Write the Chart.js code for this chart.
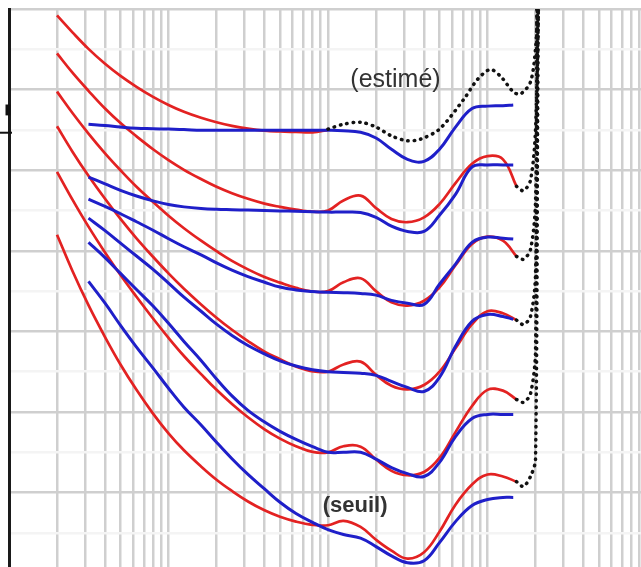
<!DOCTYPE html>
<html><head><meta charset="utf-8">
<script src="https://cdn.jsdelivr.net/npm/chart.js@4.4.0/dist/chart.umd.min.js"></script>
<style>html,body{margin:0;padding:0;overflow:hidden;background:#fff;width:641px;height:567px}canvas{display:block}</style>
</head><body><canvas id="c" width="660" height="580"></canvas>
<script>
// grid positions (Hz and dB)
const xGrid=[10,20,30,40,50,60,70,80,90,100,200,300,400,500,600,700,800,900,1000,2000,3000,4000,5000,6000,7000,8000,9000,10000,20000,30000,40000,50000,60000,70000,80000,90000,100000];
const yGrid=[-10,0,10,20,30,40,50,60,70,80,90,100,110,120,130];

// red contours (ISO 226:2003), Hz
const redFreq=[20,25,31.5,40,50,63,80,100,125,160,200,250,315,400,500,630,800,1000,1250,1600,2000,2500,3150,4000,5000,6300,8000,10000,12500,15200];
const red0 =[74.0,65.0,56.5,48.6,41.8,35.5,29.6,24.7,20.5,16.5,13.2,10.4,7.8,5.6,4.0,2.8,2.0,1.9,3.0,1.5,-1.7,-4.4,-6.4,-4.8,0.3,7.0,12.0,14.5,14.0,12.7];
const red20=[89.6,82.7,76.0,69.6,64.0,58.6,53.2,48.4,43.9,39.4,35.5,32.0,28.7,25.7,23.4,21.5,20.1,20.0,21.5,21.4,18.2,15.4,14.3,15.1,18.6,25.0,31.5,35.5,35.3,33.1];
const red40=[100.9,94.6,88.6,82.9,77.9,73.1,68.5,64.4,60.6,56.7,53.4,50.4,47.6,45.0,43.1,41.3,40.1,40.0,41.8,42.5,39.2,36.5,35.6,36.7,40.0,45.8,51.8,55.0,54.5,52.8];
const red60=[109.5,104.2,99.1,94.2,90.0,85.9,82.1,78.7,75.6,72.5,69.9,67.5,65.4,63.5,62.1,60.8,59.9,60.0,62.2,63.2,60.0,57.2,56.4,57.6,60.9,66.4,71.7,73.5,72.5,68.6];
const red80=[119.0,114.2,109.7,105.3,101.7,98.4,95.2,92.5,90.1,87.8,85.9,84.3,82.9,81.7,80.9,80.2,79.7,80.0,82.5,83.7,80.6,77.9,77.1,78.3,81.6,86.8,91.6,93.5,92.7,86.0];
const red100Freq=[20,25,31.5,40,50,63,80,100,125,160,200,250,315,400,500,630,800,1000];
const red100=[128.4,124.2,120.1,116.4,113.4,110.7,108.2,106.2,104.5,103.0,101.9,101.0,100.3,99.8,99.6,99.5,99.4,100.0];

// blue contours (original standard)
const blueFreq=[31.5,40,50,63,80,100,125,160,200,250,315,400,500,630,800,1000,1250,1600,2000,2500,3150,4000,5000,6300,8000,10000,12500,14500];
const blue0  =[62.4,57.0,51.5,46.1,40.9,35.9,31.2,26.8,22.5,18.4,14.5,10.9,7.6,4.8,2.6,0.8,-0.4,-1.3,-3.4,-5.7,-7.4,-6.9,-2.4,2.8,6.8,8.3,8.8,8.8];
const blue20 =[72.1,68.3,64.4,60.4,56.3,52.0,47.5,42.8,38.2,34.0,30.4,27.5,25.2,23.2,21.4,20.0,20.0,20.0,18.3,16.2,14.7,14.0,17.5,23.9,28.4,29.4,29.4,29.4];
const blue40 =[78.1,75.0,71.9,68.7,65.4,62.0,58.5,55.0,51.8,49.0,46.5,44.4,42.7,41.4,40.5,40.0,39.8,39.6,39.1,37.6,36.1,35.1,38.6,46.3,52.5,54.2,53.7,53.0];
const blue60 =[82.8,81.0,79.2,77.2,75.1,73.0,71.0,69.0,67.0,65.2,63.6,62.2,61.0,60.3,59.9,59.7,59.6,59.4,59.0,57.7,57.0,56.7,61.7,66.7,72.1,73.4,73.1,72.9];
const blue80 =[88.3,86.6,85.0,83.6,82.4,81.5,80.9,80.5,80.3,80.2,80.1,80.0,79.9,79.8,79.7,79.6,79.6,79.5,78.3,76.1,74.8,74.8,78.8,84.0,90.8,91.3,91.3,91.3];
const blue100=[101.4,101.1,100.7,100.4,100.3,100.2,100.1,99.9,99.9,99.9,99.9,99.9,99.9,99.9,99.9,99.9,99.8,99.4,98.0,95.2,92.7,92.2,95.2,100.7,105.3,105.9,106.0,106.2];

// dotted (estimated) parts
const estFreq=[1000,1250,1600,2000,2500,3150,3800,5000,7100,8650,10400,12070,14550,16100,18600,20000,20580,20900];
const est100=[100.2,101.4,101.9,100.7,98.5,97.3,97.7,100.2,107.6,112.5,115.0,113.3,109.4,108.9,111.9,120.1,130.0,136.0];
const tail80Freq=[15200,16800,18600,20000,21000];
const tail80=[86.0,84.9,87.5,100.0,136];
const tail60Freq=[15200,16800,18600,20000,20600];
const tail60=[68.6,67.9,70.3,82.0,136];
const tail40Freq=[15200,16800,18600,20000,20900];
const tail40=[52.8,51.7,53.7,64.0,136];
const tail20Freq=[15200,16800,18600,20000,20400];
const tail20=[33.1,32.4,34.5,45.0,136];
const tail0Freq=[15200,16800,18600,20000,20700];
const tail0 =[12.7,11.5,14.0,18.2,136];

const RED='#e32222', BLUE='#1f1fc9', DOT='#111111';
const pts=(fs,vs)=>fs.map((f,i)=>({x:f,y:vs[i]}));
const line=(fs,vs,color,w,order)=>({data:pts(fs,vs),borderColor:color,borderWidth:w,pointRadius:0,fill:false,tension:0.4,order});
const dotted=(fs,vs)=>({data:pts(fs,vs),borderColor:DOT,borderWidth:3.5,borderDash:[0.5,6],borderCapStyle:'round',pointRadius:0,fill:false,tension:0.3,order:1});

const datasets=[
  dotted(estFreq,est100),
  dotted(tail80Freq,tail80),dotted(tail60Freq,tail60),dotted(tail40Freq,tail40),dotted(tail20Freq,tail20),dotted(tail0Freq,tail0),
  line(blueFreq,blue100,BLUE,3,2),line(blueFreq,blue80,BLUE,3,2),line(blueFreq,blue60,BLUE,3,2),
  line(blueFreq,blue40,BLUE,3,2),line(blueFreq,blue20,BLUE,3,2),line(blueFreq,blue0,BLUE,3,2),
  line(red100Freq,red100,RED,2.7,3),line(redFreq,red80,RED,2.7,3),line(redFreq,red60,RED,2.7,3),
  line(redFreq,red40,RED,2.7,3),line(redFreq,red20,RED,2.7,3),line(redFreq,red0,RED,2.7,3)
];

const deco={id:'deco',
  afterDatasetsDraw(chart){
    const {ctx,scales:{x,y},chartArea}=chart;
    ctx.save();
    ctx.fillStyle='#333';ctx.textAlign='center';ctx.textBaseline='middle';
    ctx.font='25px "Liberation Sans", Arial, sans-serif';
    ctx.fillText('(estimé)',x.getPixelForValue(2650),y.getPixelForValue(112.3));
    ctx.font='bold 22px "Liberation Sans", Arial, sans-serif';
    ctx.fillText('(seuil)',x.getPixelForValue(1480),y.getPixelForValue(6.7));
    // stray tick near 100 dB on the left axis
    ctx.strokeStyle='#111';ctx.lineWidth=2;
    ctx.beginPath();ctx.moveTo(0,y.getPixelForValue(99.3));ctx.lineTo(chartArea.left+3,y.getPixelForValue(99.3));ctx.stroke();
    ctx.lineWidth=5;ctx.beginPath();ctx.moveTo(chartArea.left-1,y.getPixelForValue(106.3));ctx.lineTo(chartArea.left-1,y.getPixelForValue(103.6));ctx.stroke();
    ctx.restore();
  }};

new Chart(document.getElementById('c'),{
  type:'line',
  data:{datasets},
  options:{
    responsive:false,maintainAspectRatio:false,animation:false,devicePixelRatio:1,
    layout:{padding:{left:9,top:9,right:13,bottom:6.8}},
    plugins:{legend:{display:false},tooltip:{enabled:false}},
    scales:{
      x:{type:'logarithmic',min:10,max:100000,
        afterBuildTicks:s=>{s.ticks=xGrid.map(v=>({value:v}));},
        ticks:{display:false},
        grid:{color:'#cfcfcf',lineWidth:2.5,drawTicks:false},
        border:{display:false}},
      y:{type:'linear',min:-10,max:130,
        afterBuildTicks:s=>{s.ticks=yGrid.map(v=>({value:v}));},
        ticks:{display:false},
        grid:{color:c=>((c.tick&&((c.tick.value+10)%20===0))?'#cfcfcf':'#f4f4f4'),lineWidth:2.5,drawTicks:false},
        border:{display:true,color:'#1a1a1a',width:3}}
    }
  },
  plugins:[deco]
});
</script></body></html>
